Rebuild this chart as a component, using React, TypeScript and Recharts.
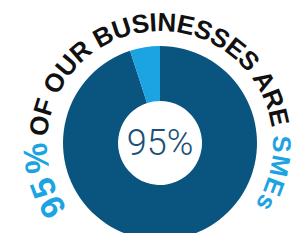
import { PieChart, Pie, Cell, Customized } from "recharts";

const slices = ["SMEs", "Other"];
const shares = [95, 5];
const sliceColors = ["#0a5580", "#1ba3e2"];
const centerLabel = "95%";
const arcLead = "95%";
const arcMiddle = "OF OUR BUSINESSES ARE";
const arcTail = "SMEs";

const data = slices.map((name, i) => ({ name, value: shares[i] }));

const W = 307;
const H = 241;
const CX = 160;
const CY = 143;

// text runs along a circle around the donut, starting at lower left
const R_TEXT = 113;
const A_START = 216;
const A_END = -40;

const offsetAt = (deg: number) => ((A_START - deg) * Math.PI * R_TEXT) / 180;

function ArcTitle() {
  const a0 = (A_START * Math.PI) / 180;
  const a1 = (A_END * Math.PI) / 180;
  const tcy = CY + 1;
  const x0 = CX + R_TEXT * Math.cos(a0);
  const y0 = tcy - R_TEXT * Math.sin(a0);
  const x1 = CX + R_TEXT * Math.cos(a1);
  const y1 = tcy - R_TEXT * Math.sin(a1);
  const d = `M ${x0} ${y0} A ${R_TEXT} ${R_TEXT} 0 1 1 ${x1} ${y1}`;
  const font = "'Liberation Sans', Arial, sans-serif";
  return (
    <g>
      <path id="arc-title" d={d} fill="none" stroke="none" />
      <text fontFamily={font} fontWeight="bold" fontSize={34} fill="#1ba3e2">
        <textPath href="#arc-title" startOffset={offsetAt(215)}>
          {arcLead.slice(0, -1)}
          <tspan dx={3}>{arcLead.slice(-1)}</tspan>
        </textPath>
      </text>
      <text fontFamily={font} fontWeight="bold" fontSize={26} fill="#111111" letterSpacing={-0.3}>
        <textPath href="#arc-title" startOffset={offsetAt(176.5)}>
          {arcMiddle}
        </textPath>
      </text>
      <text fontFamily={font} fontWeight="bold" fontSize={25.5} fill="#1ba3e2" letterSpacing={1}>
        <textPath href="#arc-title" startOffset={offsetAt(4.5)}>
          {arcTail}
        </textPath>
      </text>
      <text
        x={CX}
        y={CY}
        textAnchor="middle"
        dominantBaseline="central"
        fill="#1d4f78"
        fontSize={36}
        fontWeight={300}
        fontFamily="Roboto, 'Liberation Sans', sans-serif"
      >
        {centerLabel}
      </text>
    </g>
  );
}

export default function App() {
  return (
    <div style={{ margin: -8, width: W, height: H, background: "#fff" }}>
      <PieChart width={W} height={H} margin={{ top: 0, right: 0, bottom: 0, left: 0 }}>
        <Pie
          data={data}
          dataKey="value"
          nameKey="name"
          cx={CX}
          cy={CY}
          innerRadius={42}
          outerRadius={97}
          startAngle={90}
          endAngle={-270}
          stroke="none"
          isAnimationActive={false}
        >
          {data.map((d, i) => (
            <Cell key={d.name} fill={sliceColors[i]} />
          ))}
        </Pie>
        <Customized component={ArcTitle} />
      </PieChart>
    </div>
  );
}
